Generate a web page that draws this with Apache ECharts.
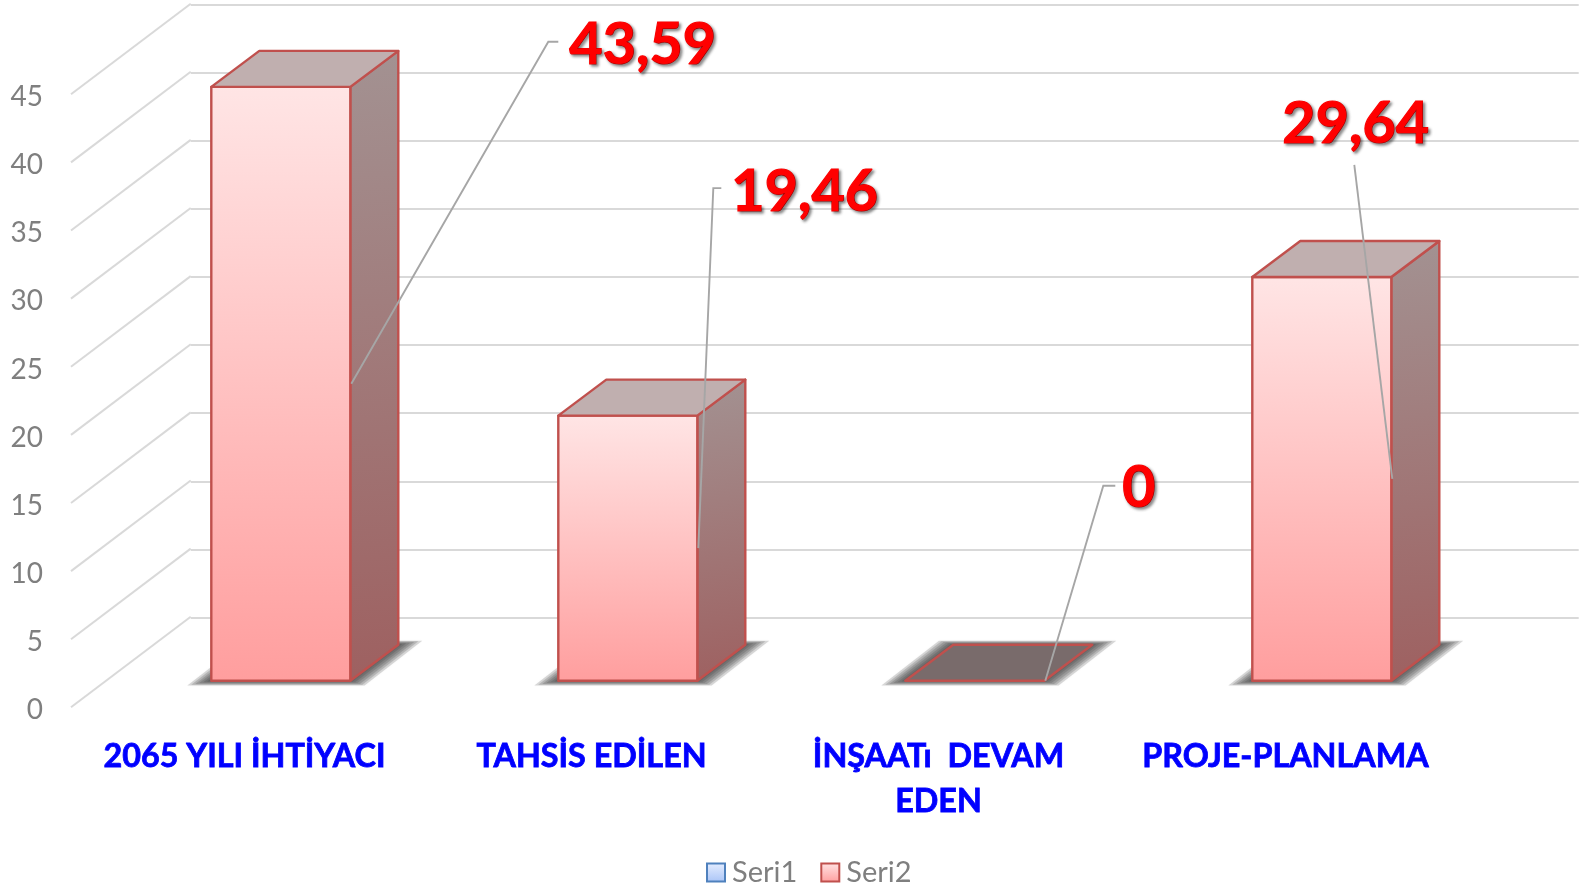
<!DOCTYPE html>
<html><head><meta charset="utf-8">
<style>html,body{margin:0;padding:0;background:#fff}#c{width:1579px;height:888px}</style>
<script src="https://cdn.jsdelivr.net/npm/echarts@6/dist/echarts.min.js"></script>
</head><body><div id="c"></div>
<script>
const categories = ['2065 YILI İHTİYACI', 'TAHSİS EDİLEN', 'İNŞAATı  DEVAM\nEDEN', 'PROJE-PLANLAMA'];
const seri1Values = [];
const seri2Values = [43.59, 19.46, 0, 29.64];
const valueLabels = ['43,59', '19,46', '0', '29,64'];
const yTicks = [0, 5, 10, 15, 20, 25, 30, 35, 40, 45];

// layout, separate from the data
const W = 1388, FRONT_LEFT = 71, FRONT_TOP = 94.3, FRONT_H = 613;
const WALL_DX = 119.7, WALL_DY = 90.6, TICK_LABEL_DROP = 2.8;
const BAR_DX = 36.3, BAR_DY = 26.6, DEPTH_X = 48, DEPTH_Y = 36, BAR_W_RATIO = 139 / 347;
// leader elbow and label anchor relative to leader start (right edge, mid height of the bar)
const leaders = [
  { ex: 197, ey: -342, hx: 10, lx: 218, ly: -338 },
  { ex: 15, ey: -360, hx: 8, lx: 33, ly: -356 },
  { ex: 58, ey: -195, hx: 12, lx: 77, ly: -192 },
  { ex: -38, ey: -314, hx: 0, lx: -110, ly: -354 }
];
const FONT = 'Lato, "Open Sans", sans-serif';
const RED = '#c0504d';
const SHADOW_STEPS = [24, 20, 16, 12, 8, 4];
const G = echarts.graphic;

function barGeom(api) {
  const idx = api.value(0), v = api.value(1);
  const base = api.coord([idx, 0]), top = api.coord([idx, v]);
  const bw = api.size([1, 0])[0] * BAR_W_RATIO;
  const l = base[0] + BAR_DX - bw / 2, r = l + bw;
  const y0 = base[1] - BAR_DY, y1 = top[1] - BAR_DY;
  return { idx, v, l, r, y0, y1 };
}

function renderBar(params, api) {
  const { v, l, r, y0, y1 } = barGeom(api);
  const dx = DEPTH_X, dy = DEPTH_Y;
  const stroke = { stroke: RED, lineWidth: 2.4, lineJoin: 'round' };
  // soft floor shadow: stacked translucent footprints, widest and faintest first
  const children = SHADOW_STEPS.map(e => ({
    type: 'polygon',
    shape: { points: [[l - e, y0 + e / 5], [r + e * 0.6, y0 + e / 5], [r + dx + e, y0 - dy - e / 6], [l + dx - e * 0.6, y0 - dy - e / 6]] },
    style: { fill: 'rgba(50,50,50,0.18)', shadowBlur: 3, shadowColor: 'rgba(50,50,50,0.18)' }
  }));
  if (v > 0) {
    children.push({
      type: 'polygon',
      shape: { points: [[r, y1], [r + dx, y1 - dy], [r + dx, y0 - dy], [r, y0]] },
      style: Object.assign({ fill: new G.LinearGradient(0, 0, 1, 1, [{ offset: 0, color: '#a39292' }, { offset: 1, color: '#9e6060' }]) }, stroke)
    }, {
      type: 'polygon',
      shape: { points: [[l, y1], [r, y1], [r, y0], [l, y0]] },
      style: Object.assign({ fill: new G.LinearGradient(0, 0, 0, 1, [{ offset: 0, color: '#ffe5e5' }, { offset: 1, color: '#ff9e9e' }]) }, stroke)
    });
  }
  children.push({
    type: 'polygon',
    shape: { points: [[l, y1], [r, y1], [r + dx, y1 - dy], [l + dx, y1 - dy]] },
    style: Object.assign({ fill: v > 0 ? '#c0afaf' : '#796b6b' }, stroke)
  });
  return { type: 'group', children };
}

function renderLabel(params, api) {
  const { idx, r, y0, y1 } = barGeom(api);
  const sx = r + 1, sy = (y0 + y1) / 2;
  const a = leaders[idx];
  const pts = [[sx, sy], [sx + a.ex, sy + a.ey]];
  if (a.hx) pts.push([sx + a.ex + a.hx, sy + a.ey]);
  return { type: 'group', children: [{
    type: 'polyline', shape: { points: pts },
    style: { stroke: '#a6a6a6', lineWidth: 1.9, fill: 'none' }
  }, {
    type: 'text', x: sx + a.lx, y: sy + a.ly,
    style: {
      text: valueLabels[idx], fill: '#ff0000', font: 'bold 57.5px ' + FONT,
      stroke: '#ff0000', lineWidth: 1.2,
      align: 'left', verticalAlign: 'middle',
      textShadowColor: 'rgba(0,0,0,0.45)', textShadowBlur: 3, textShadowOffsetX: 2, textShadowOffsetY: 2
    }
  }] };
}

function renderDiag(params, api) {
  const y = api.coord([0, api.value(0)])[1];
  const x = params.coordSys.x;
  return { type: 'line', shape: { x1: x, y1: y, x2: x + WALL_DX, y2: y - WALL_DY }, style: { stroke: '#d9d9d9', lineWidth: 2 } };
}

const chart = echarts.init(document.getElementById('c'), null, { renderer: 'canvas' });
chart.setOption({
  animation: false,
  backgroundColor: '#fff',
  legend: {
    left: 701, top: 853, itemWidth: 18, itemHeight: 18, itemGap: 23, selectedMode: false,
    textStyle: { color: '#7f7f7f', fontFamily: FONT, fontSize: 29, padding: [0, 0, 0, 2] },
    data: [
      { name: 'Seri1', icon: 'rect', itemStyle: { color: new G.LinearGradient(0, 0, 0, 1, [{ offset: 0, color: '#e6eeff' }, { offset: 1, color: '#a9c4f7' }]), borderColor: '#4f81bd', borderWidth: 2 } },
      { name: 'Seri2', icon: 'rect', itemStyle: { color: new G.LinearGradient(0, 0, 0, 1, [{ offset: 0, color: '#ffe5e5' }, { offset: 1, color: '#ff9e9e' }]), borderColor: RED, borderWidth: 2 } }
    ]
  },
  grid: [
    { left: FRONT_LEFT, top: FRONT_TOP, width: W, height: FRONT_H },
    { left: FRONT_LEFT + WALL_DX, top: FRONT_TOP - WALL_DY + 0.8, width: W, height: FRONT_H },
    { left: FRONT_LEFT, top: FRONT_TOP + TICK_LABEL_DROP, width: W, height: FRONT_H }
  ],
  xAxis: [
    { type: 'category', gridIndex: 0, data: categories, axisLine: { show: false }, axisTick: { show: false }, splitLine: { show: false },
      axisLabel: { color: '#0000ff', fontFamily: FONT, fontWeight: 'bold', fontSize: 32.3, lineHeight: 45, margin: 27, interval: 0, textBorderColor: '#0000ff', textBorderWidth: 0.8 } },
    { type: 'category', gridIndex: 1, data: categories, show: false },
    { type: 'category', gridIndex: 2, data: categories, show: false }
  ],
  yAxis: [
    { type: 'value', gridIndex: 0, min: 0, max: 45, interval: 5, show: false },
    { type: 'value', gridIndex: 1, min: 0, max: 45, interval: 5, axisLine: { show: false }, axisTick: { show: false }, axisLabel: { show: false },
      splitLine: { show: true, lineStyle: { color: '#d9d9d9', width: 2 } } },
    { type: 'value', gridIndex: 2, min: 0, max: 45, interval: 5, axisLine: { show: false }, axisTick: { show: false }, splitLine: { show: false },
      axisLabel: { color: '#7f7f7f', fontFamily: FONT, fontSize: 28, margin: 28 } }
  ],
  series: [
    { type: 'custom', name: 'walls', xAxisIndex: 0, yAxisIndex: 0, silent: true, z: 1, encode: { y: 0 }, data: yTicks.map(t => [t]), renderItem: renderDiag },
    { type: 'custom', name: 'Seri1', xAxisIndex: 0, yAxisIndex: 0, z: 2, data: seri1Values, renderItem: renderBar },
    { type: 'custom', name: 'Seri2', xAxisIndex: 0, yAxisIndex: 0, z: 3, encode: { x: 0, y: 1 }, data: seri2Values.map((v, i) => [i, v]), renderItem: renderBar },
    { type: 'custom', name: 'labels', xAxisIndex: 0, yAxisIndex: 0, silent: true, z: 4, encode: { x: 0, y: 1 }, data: seri2Values.map((v, i) => [i, v]), renderItem: renderLabel }
  ]
});
</script></body></html>
